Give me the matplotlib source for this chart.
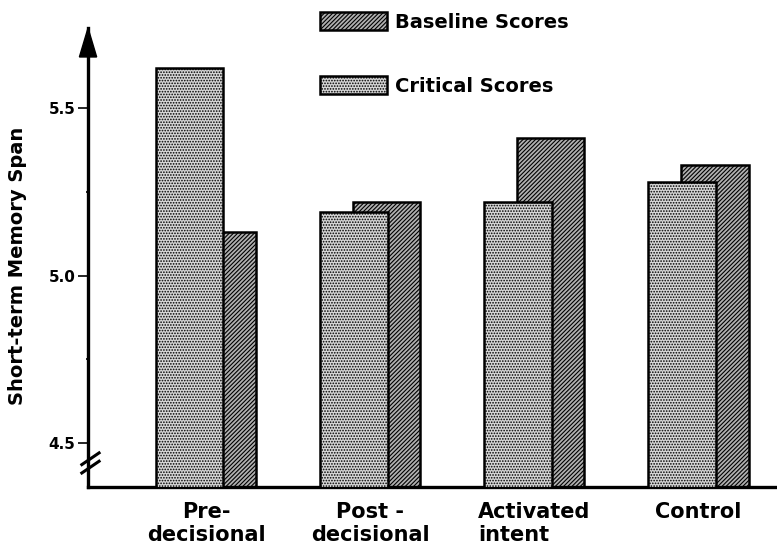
"""Short-term memory span by condition: critical vs baseline scores"""

import numpy as np
import matplotlib.pyplot as plt
from matplotlib.patches import Polygon

CATEGORIES = ["Pre-\ndecisional", "Post -\ndecisional", "Activated\nintent", "Control"]
CRITICAL = [5.62, 5.19, 5.22, 5.28]
BASELINE = [5.13, 5.22, 5.41, 5.33]
YTICKS = [4.5, 5.0, 5.5]
YMINOR = [4.75, 5.25]

FONT = "DejaVu Sans"
plt.rcParams["font.family"] = FONT
plt.rcParams["font.weight"] = "bold"
plt.rcParams["hatch.linewidth"] = 0.8

fig = plt.figure(figsize=(7.77, 5.5), dpi=100)
ax = fig.add_axes([0.1133, 0.1145, 0.887, 0.8345])

x = np.arange(len(CATEGORIES))
width = 0.41
offset = 0.1

# baseline sits behind, critical in front
b_base = ax.bar(x + offset, BASELINE, width, color="#b0b0b0",
                edgecolor="black", linewidth=1.8, hatch="////////", zorder=2,
                label="Baseline Scores")
b_crit = ax.bar(x - offset, CRITICAL, width, color="#d6d6d6",
                edgecolor="black", linewidth=1.8, hatch="......", zorder=3,
                label="Critical Scores")

ax.set_xlim(-0.72, 3.48)
ax.set_ylim(4.368, 5.74)

ax.spines["top"].set_visible(False)
ax.spines["right"].set_visible(False)
ax.spines["left"].set_linewidth(2.4)
ax.spines["bottom"].set_linewidth(2.4)

ax.set_yticks(YTICKS)
ax.set_yticklabels(["{:.1f}".format(v) for v in YTICKS], fontsize=11,
                   fontweight="bold")
ax.set_yticks(YMINOR, minor=True)
ax.tick_params(axis="y", which="major", length=7, width=1.2, pad=2)
ax.tick_params(axis="y", which="minor", length=3, width=1.2, direction="inout")

ax.set_xticks(x)
ax.set_xticklabels(CATEGORIES, fontsize=15, fontweight="bold",
                   linespacing=1.15)
ax.tick_params(axis="x", length=0, pad=11)
ax.get_xticklabels()[2].set_multialignment("left")

ax.set_ylabel("Short-term Memory Span", fontsize=14, fontweight="bold")
ax.yaxis.set_label_coords(-0.088, 0.481)

# arrow head on the y axis
tri = Polygon([[-0.0125, 0.937], [0.0125, 0.937], [0, 1.0]], closed=True,
              facecolor="black", edgecolor="black", transform=ax.transAxes,
              clip_on=False, zorder=5)
ax.add_patch(tri)

# axis break marks
trans = ax.get_yaxis_transform()
for dy in (0.0, 0.025):
    ax.plot([-0.009, 0.016], [4.41 + dy, 4.445 + dy], color="black",
            linewidth=2.2, transform=trans, clip_on=False, zorder=5)

ax.legend(handles=[b_base, b_crit], loc="upper left",
          bbox_to_anchor=(320 / 777, 1 - 12 / 550),
          bbox_transform=fig.transFigure, frameon=False,
          handlelength=3.45, handleheight=1.03, labelspacing=2.3,
          handletextpad=0.4, borderpad=0, borderaxespad=0,
          prop={"weight": "bold", "size": 14})

plt.savefig("out.png", dpi=100)
